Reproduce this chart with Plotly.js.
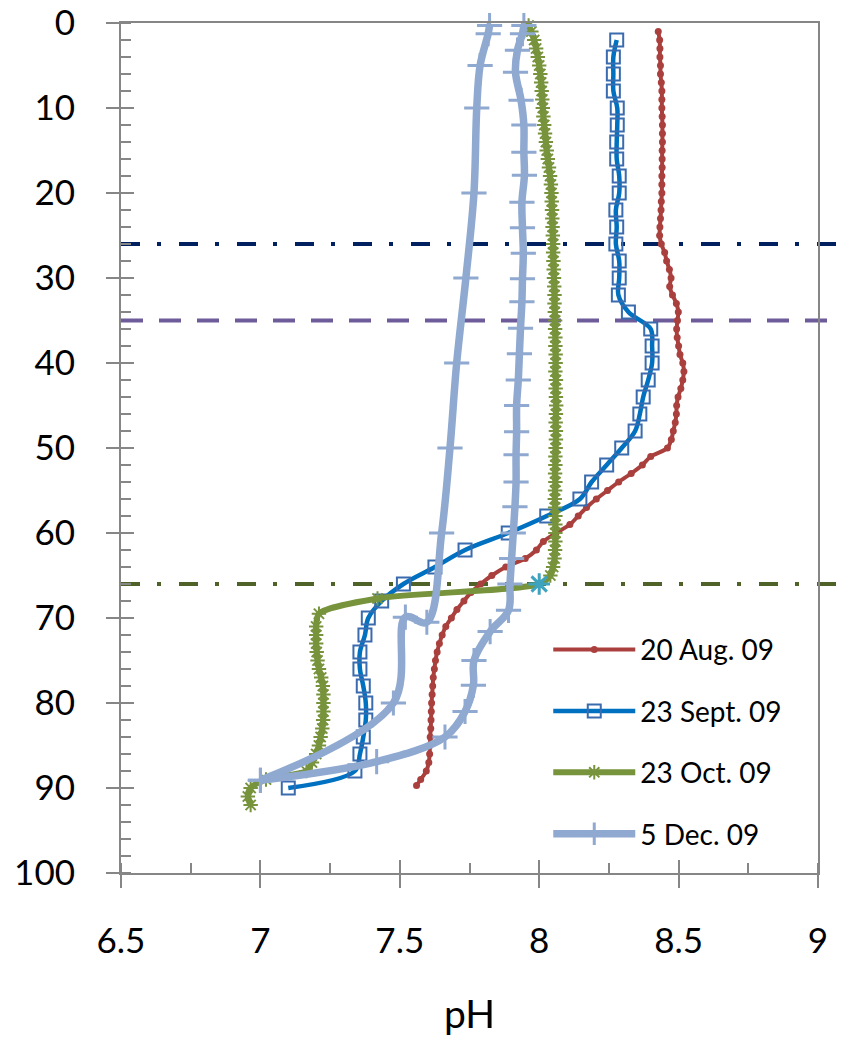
<!DOCTYPE html>
<html><head><meta charset="utf-8">
<script src="https://cdn.plot.ly/plotly-3.0.1.min.js"></script>
<style>html,body{margin:0;padding:0;background:#fff;}#chart{width:841px;height:1045px;}</style>
</head><body><div id="chart"></div>
<script>
// ---- data (depth in m, pH) ----
const seriesNames = ['20 Aug. 09', '23 Sept. 09', '23 Oct. 09', '5 Dec. 09'];

const depthAug = [1,2,3,4,5,6,7,8,9,10,11,12,13,14,15,16,17,18,19,20,21,22,23,24,25,26,27,28,29,30,31,32,33,34,35,36,37,38,39,40,41,42,43,44,45,46,47,48,49,50,51,52,53,54,55,56,57,58,59,60,61,62,63,64,65,66,67,68,69,70,71,72,73,74,75,76,77,78,79,80,81,82,83,84,85,86,87,88,89,89.7];
const phAug = [8.427,8.432,8.433,8.433,8.435,8.435,8.438,8.44,8.44,8.44,8.441,8.442,8.442,8.442,8.441,8.441,8.441,8.44,8.44,8.44,8.438,8.437,8.435,8.433,8.432,8.438,8.45,8.457,8.467,8.473,8.468,8.478,8.492,8.499,8.496,8.493,8.495,8.5,8.505,8.515,8.519,8.515,8.508,8.498,8.493,8.492,8.488,8.481,8.474,8.46,8.4,8.37,8.33,8.285,8.245,8.205,8.17,8.14,8.11,8.06,8.015,7.99,7.95,7.88,7.83,7.79,7.755,7.73,7.705,7.685,7.665,7.652,7.642,7.634,7.628,7.624,7.62,7.618,7.616,7.614,7.613,7.612,7.611,7.609,7.608,7.607,7.604,7.595,7.575,7.56];

const depthSep = [2,4,6,8,10,12,14,16,18,20,22,24,26,28,30,32,34,36,38,40,42,44,46,48,50,52,54,56,58,60,62,64,66,68,70,72,74,76,78,80,82,84,86,88,90];
const phSep = [8.278,8.266,8.266,8.266,8.28,8.28,8.278,8.278,8.287,8.287,8.275,8.278,8.275,8.287,8.287,8.284,8.32,8.4,8.405,8.405,8.391,8.373,8.361,8.344,8.296,8.242,8.188,8.146,8.027,7.889,7.734,7.626,7.513,7.435,7.387,7.375,7.357,7.357,7.369,7.378,7.378,7.369,7.357,7.339,7.1];

const depthOct = [0.3,1,2,3,4,5,6,7,8,9,10,11,12,13,14,15,16,17,18,19,20,21,22,23,24,25,26,27,28,29,30,31,32,33,34,35,36,37,38,39,40,41,42,43,44,45,46,47,48,49,50,51,52,53,54,55,56,57,58,59,60,61,62,63,64,65,66,67.7,69.5,71,72,73,74,75,76,77,78,79,80,81,82,83,84,85,86,87,88,89,90,91,92];
const phOct = [7.962,7.972,7.982,7.989,7.995,8.0,8.004,8.007,8.009,8.011,8.013,8.015,8.018,8.021,8.024,8.027,8.031,8.035,8.039,8.042,8.044,8.045,8.046,8.047,8.048,8.049,8.05,8.05,8.051,8.052,8.053,8.054,8.055,8.055,8.056,8.057,8.057,8.058,8.058,8.059,8.059,8.058,8.06,8.059,8.06,8.061,8.06,8.059,8.06,8.06,8.059,8.058,8.058,8.057,8.058,8.057,8.056,8.057,8.058,8.058,8.058,8.058,8.057,8.055,8.05,8.04,8.0,7.42,7.21,7.2,7.2,7.2,7.202,7.205,7.21,7.218,7.224,7.226,7.226,7.226,7.225,7.222,7.216,7.21,7.2,7.185,7.165,7.02,6.965,6.955,6.965];

// 5 Dec. 09 profile, two branches
const depthDecA = [0.3,1.25,5,10,20,30,40,50,60,70.5,69.9,80,89.1];
const phDecA = [7.822,7.817,7.788,7.776,7.766,7.737,7.704,7.68,7.65,7.597,7.52,7.477,7.0];
const depthDecB = [0.3,1.25,3.2,5.8,9.1,12,15.2,17.9,21.1,24.1,27.1,30.1,32.8,35.9,38.9,42,45,48.1,50.8,54,56.9,60,63,66,69.1,71.6,75,77.9,81,84,86.9,89.1];
const phDecB = [7.945,7.94,7.922,7.915,7.935,7.945,7.945,7.947,7.938,7.94,7.943,7.94,7.938,7.933,7.929,7.925,7.919,7.919,7.917,7.917,7.913,7.907,7.901,7.895,7.89,7.824,7.766,7.764,7.734,7.662,7.417,7.0];

const highlightDepth = [66];
const highlightPh = [8.0];

const refDepths = [26, 35, 66];

// ---- styling ----
const FONT = 'Lato, "Open Sans", sans-serif';
const AX = '#868686';
const cRed = '#AA403D', cBlue = '#0070C0', cSq = '#3A6BAE', cGreen = '#77933C', cLB = '#8FA9D0';

const traces = [
  {x: phAug, y: depthAug, name: seriesNames[0], legendgroup: 'a', mode: 'lines+markers', cliponaxis: false,
   line: {color: cRed, width: 4, shape: 'spline', smoothing: 0.8},
   marker: {symbol: 'circle', size: 7, color: cRed}},
  {x: phSep, y: depthSep, name: seriesNames[1], legendgroup: 'b', mode: 'lines+markers', cliponaxis: false,
   line: {color: cBlue, width: 4.5, shape: 'spline', smoothing: 1},
   marker: {symbol: 'square-open', size: 13, color: cSq, line: {color: cSq, width: 2}}},
  {x: phOct, y: depthOct, name: seriesNames[2], legendgroup: 'c', mode: 'lines+markers', cliponaxis: false,
   line: {color: cGreen, width: 6, shape: 'spline', smoothing: 0.8},
   marker: {symbol: 'asterisk-open', size: 12, color: cGreen, line: {color: cGreen, width: 2}}},
  {x: phDecA, y: depthDecA, name: seriesNames[3], legendgroup: 'd', mode: 'lines+markers', cliponaxis: false,
   line: {color: cLB, width: 7.5, shape: 'spline', smoothing: 1},
   marker: {symbol: 'cross-thin-open', size: 18, color: cLB, line: {color: cLB, width: 3}}},
  {x: phDecB, y: depthDecB, name: seriesNames[3], legendgroup: 'd', showlegend: false, mode: 'lines+markers', cliponaxis: false,
   line: {color: cLB, width: 7.5, shape: 'spline', smoothing: 1},
   marker: {symbol: 'cross-thin-open', size: 18, color: cLB, line: {color: cLB, width: 3}}},
  {x: highlightPh, y: highlightDepth, showlegend: false, mode: 'markers', cliponaxis: false,
   marker: {symbol: 'asterisk-open', size: 18, color: '#3DA3BE', line: {color: '#3DA3BE', width: 3}}},
  {x: [], y: [], xaxis: 'x2', yaxis: 'y2', showlegend: false, hoverinfo: 'skip', mode: 'lines'}
];

const refStyles = [
  {color: '#002060', dash: '19px,17px,4px,18px'},
  {color: '#6E5B9A', dash: '22px,16px'},
  {color: '#4F6228', dash: '19px,17px,4px,18px'}
];
const shapes = refDepths.map((d, i) => ({
  type: 'line', xref: 'paper', x0: 0, x1: 1.029, yref: 'y', y0: d, y1: d, layer: 'below',
  line: {color: refStyles[i].color, width: 4, dash: refStyles[i].dash}
}));

const tickBase = {ticklen: 13, tickwidth: 2, tickcolor: AX, showgrid: false, zeroline: false};

const layout = {
  width: 841, height: 1045,
  margin: {l: 121, r: 23, t: 23, b: 172, pad: 0},
  paper_bgcolor: '#fff', plot_bgcolor: '#fff',
  font: {family: FONT, color: '#000'},
  showlegend: true,
  legend: {x: 0.613, xanchor: 'left', y: 0.292, yanchor: 'top', bgcolor: 'rgba(0,0,0,0)',
           font: {family: FONT, size: 28, color: '#000'}, itemwidth: 82, tracegroupgap: 22, traceorder: 'grouped'},
  xaxis: Object.assign({}, tickBase, {
    range: [6.5, 9], tick0: 6.5, dtick: 0.5, ticks: 'outside',
    showline: true, linecolor: AX, linewidth: 2, mirror: true,
    tickfont: {family: FONT, size: 35, color: '#000'}, ticklabelstandoff: 23,
    minor: {dtick: 0.25, ticks: 'inside', ticklen: 10, tickwidth: 2, tickcolor: AX, showgrid: false},
    title: {text: 'pH', font: {family: FONT, size: 39, color: '#000'}, standoff: 42}
  }),
  yaxis: Object.assign({}, tickBase, {
    range: [100, 0], tick0: 0, dtick: 10, ticks: 'outside',
    showline: true, linecolor: AX, linewidth: 2, mirror: true,
    tickfont: {family: FONT, size: 35, color: '#000'}, ticklabelstandoff: 24,
    minor: {dtick: 2, ticks: 'inside', ticklen: 10, tickwidth: 2, tickcolor: AX, showgrid: false}
  }),
  xaxis2: Object.assign({}, tickBase, {overlaying: 'x', anchor: 'y', side: 'bottom', range: [6.5, 9], tick0: 6.5, dtick: 0.5,
    ticks: 'inside', showticklabels: false, showline: false}),
  yaxis2: Object.assign({}, tickBase, {overlaying: 'y', anchor: 'x', side: 'left', range: [100, 0], tick0: 0, dtick: 10,
    ticks: 'inside', showticklabels: false, showline: false}),
  shapes: shapes
};

Plotly.newPlot('chart', traces, layout, {displayModeBar: false, staticPlot: true});
</script>
</body></html>
